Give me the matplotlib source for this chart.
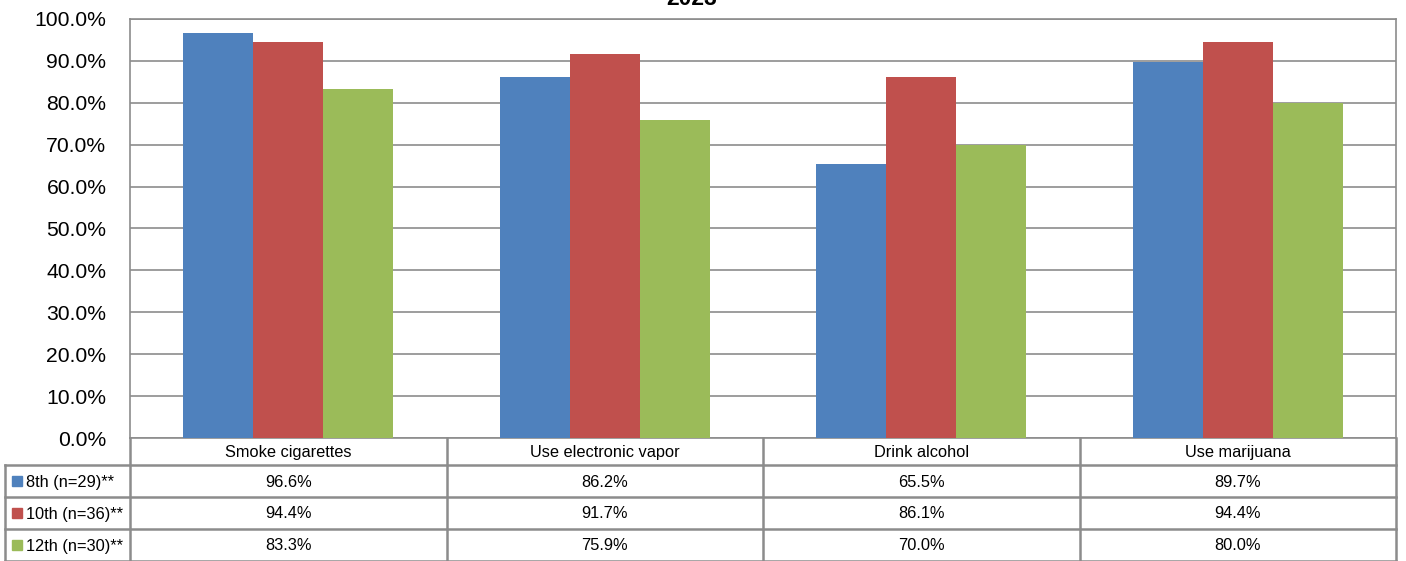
import matplotlib
matplotlib.use("Agg")
import matplotlib.pyplot as plt
import numpy as np

plt.rcParams['font.family'] = ['Liberation Sans', 'DejaVu Sans']

title = "2023"
categories = ["Smoke cigarettes", "Use electronic vapor", "Drink alcohol", "Use marijuana"]
series_names = ["8th (n=29)**", "10th (n=36)**", "12th (n=30)**"]
grade8 = [96.6, 86.2, 65.5, 89.7]
grade10 = [94.4, 91.7, 86.1, 94.4]
grade12 = [83.3, 75.9, 70.0, 80.0]
colors = ["#4F81BD", "#C0504D", "#9BBB59"]
yticks = [0, 10, 20, 30, 40, 50, 60, 70, 80, 90, 100]

series = [grade8, grade10, grade12]

W, H = 1406, 561
fig = plt.figure(figsize=(W / 100, H / 100), dpi=100)

def fx(px):
    return px / W

def fy(py):
    return 1 - py / H

left, right, top, bottom = 130, 1396, 19, 438
ax = fig.add_axes([fx(left), fy(bottom), fx(right - left), (bottom - top) / H])

n = len(categories)
x = np.arange(n)
bw = 0.221
grid_c = "#8C8C8C"
for i, (vals, c) in enumerate(zip(series, colors)):
    ax.bar(x + (i - 1) * bw, vals, width=bw, color=c, zorder=3, linewidth=0)

ax.set_xlim(-0.5, n - 0.5)
ax.set_ylim(0, 100)
ax.set_yticks(yticks)
ax.set_yticklabels([f"{t:.1f}%" for t in yticks], fontsize=15.2)
ax.tick_params(axis='y', length=0, pad=17)
ax.set_xticks([])
ax.yaxis.grid(True, color=grid_c, linewidth=1.2, zorder=0)
for s in ax.spines.values():
    s.set_color(grid_c)
    s.set_linewidth(1.2)

fig.text(fx(692), fy(5), title, ha='center', va='baseline', fontsize=16.5, fontweight='bold')

# data table
tax = fig.add_axes([0, 0, 1, 1])
tax.set_xlim(0, W)
tax.set_ylim(H, 0)
tax.axis('off')
line_c = "#8C8C8C"
lw = 1.8
fs = 11.8
col_edges = [left + k * (right - left) / n for k in range(n + 1)]
row_edges = [438, 465, 497, 529, 561]
for xe in col_edges:
    tax.plot([xe, xe], [row_edges[0], row_edges[-1]], color=line_c, lw=lw)
for ye in row_edges[1:]:
    tax.plot([5, right], [ye, ye], color=line_c, lw=lw)
tax.plot([5, 5], [row_edges[1], row_edges[-1]], color=line_c, lw=lw)

for j, cat in enumerate(categories):
    cx = (col_edges[j] + col_edges[j + 1]) / 2
    tax.text(cx, (row_edges[0] + row_edges[1]) / 2 + 1, cat, ha='center', va='center', fontsize=fs)

for i, (name, vals, c) in enumerate(zip(series_names, series, colors)):
    cy = (row_edges[i + 1] + row_edges[i + 2]) / 2
    tax.add_patch(plt.Rectangle((12, cy - 5), 10, 10, color=c))
    tax.text(26, cy + 1, name, ha='left', va='center', fontsize=fs)
    for j, v in enumerate(vals):
        cx = (col_edges[j] + col_edges[j + 1]) / 2
        tax.text(cx, cy + 1, f"{v:.1f}%", ha='center', va='center', fontsize=fs)

fig.savefig("out.png", dpi=100)
